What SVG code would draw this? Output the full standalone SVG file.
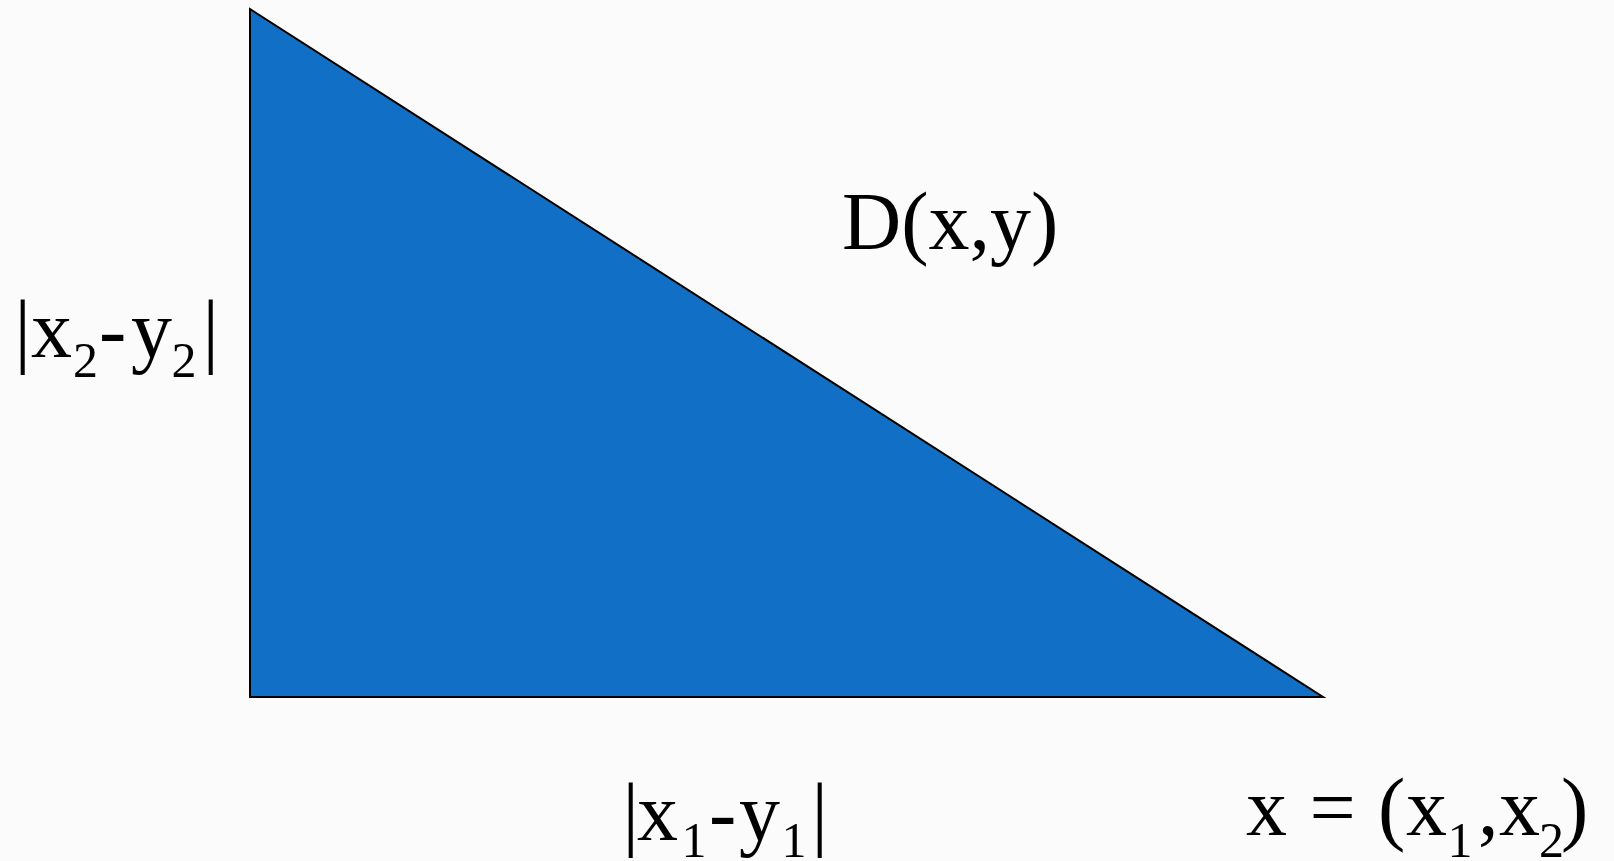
<svg xmlns="http://www.w3.org/2000/svg" width="1614" height="861" viewBox="0 0 1614 861">
  <style>
    .t { font-family: "Liberation Serif", "Times New Roman", serif; fill: #000; font-size: 82px; }
    .s { font-size: 50px; }
  </style>
  <rect x="0" y="0" width="1614" height="861" fill="#FBFBFB"/>
  <g id="triangle">
    <polygon points="250,9 250,697 1323,697" fill="#116FC5" stroke="#000" stroke-width="2" stroke-linejoin="miter"/>
  </g>
  <g id="label-D">
    <text class="t" x="842" y="249">D(x,y)</text>
  </g>
  <g id="label-x2y2">
    <text class="t" y="357"><tspan x="14.5">|</tspan><tspan x="31">x</tspan><tspan class="s" x="73" y="377">2</tspan><tspan x="99" y="357">-</tspan><tspan x="131">y</tspan><tspan class="s" x="171.5" y="377">2</tspan><tspan x="202.5" y="357">|</tspan></text>
  </g>
  <g id="label-x1y1">
    <text class="t" y="840"><tspan x="622.5">|</tspan><tspan x="637">x</tspan><tspan class="s" x="681.5" y="857">1</tspan><tspan x="709" y="840">-</tspan><tspan x="739">y</tspan><tspan class="s" x="781.5" y="857">1</tspan><tspan x="811.5" y="840">|</tspan></text>
  </g>
  <g id="label-x">
    <text class="t" y="835"><tspan x="1246">x</tspan><tspan x="1309.5">=</tspan><tspan x="1378">(</tspan><tspan x="1406">x</tspan><tspan class="s" x="1447.5" y="857">1</tspan><tspan x="1478" y="835">,</tspan><tspan x="1499">x</tspan><tspan class="s" x="1539" y="857">2</tspan><tspan x="1561" y="835">)</tspan></text>
  </g>
</svg>
